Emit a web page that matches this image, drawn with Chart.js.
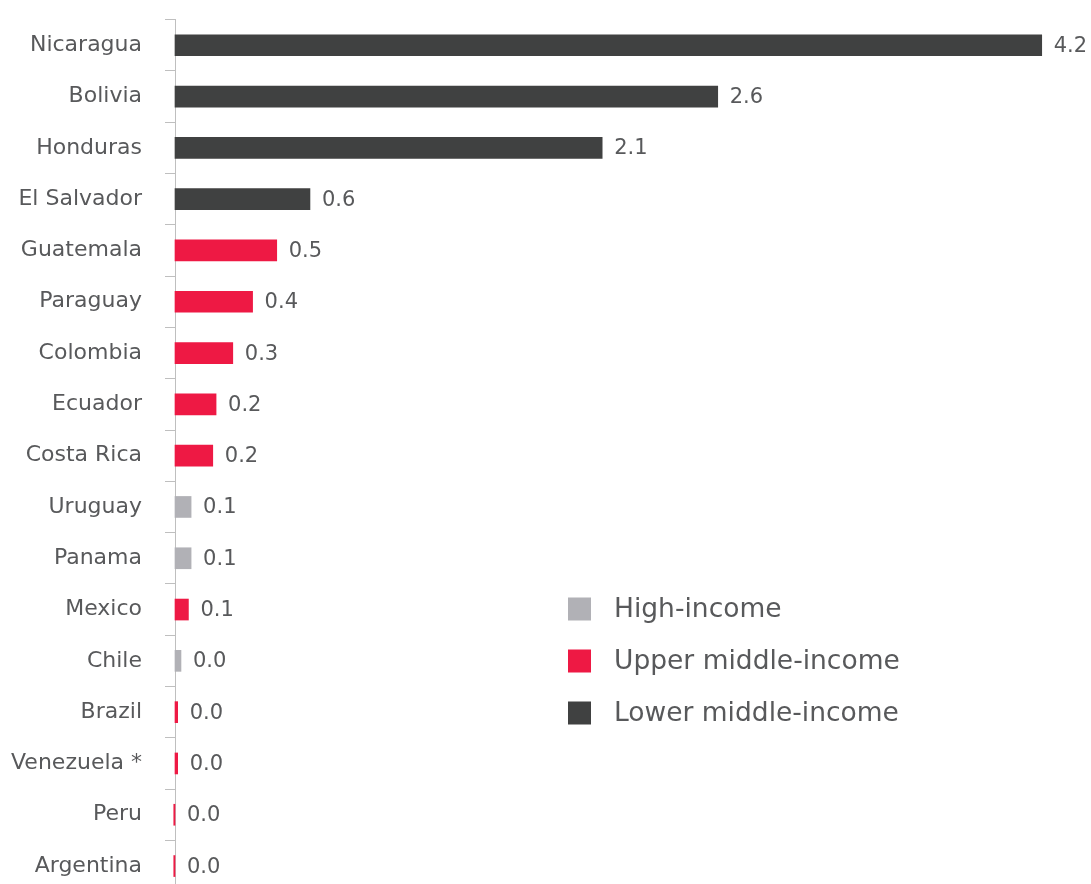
<!DOCTYPE html>
<html>
<head>
<meta charset="utf-8">
<script src="https://cdn.jsdelivr.net/npm/chart.js@4.4.1/dist/chart.umd.min.js"></script>
<style>
  html, body { margin: 0; padding: 0; background: #ffffff; overflow: hidden; }
  #wrap { position: relative; width: 1091px; height: 900px; }
</style>
</head>
<body>
<div id="wrap"><canvas id="c" width="1091" height="900"></canvas></div>
<script>
const categories = ["Nicaragua", "Bolivia", "Honduras", "El Salvador", "Guatemala", "Paraguay",
  "Colombia", "Ecuador", "Costa Rica", "Uruguay", "Panama", "Mexico", "Chile", "Brazil",
  "Venezuela *", "Peru", "Argentina"];
const values = [4.2, 2.63, 2.07, 0.654, 0.493, 0.376, 0.28, 0.199, 0.183, 0.078, 0.078, 0.065,
  0.029, 0.013, 0.013, -0.006, -0.006];
const groups = ["Lower", "Lower", "Lower", "Lower", "Upper", "Upper", "Upper", "Upper", "Upper",
  "High", "High", "Upper", "High", "Upper", "Upper", "Upper", "Upper"];
const valueTexts = ["4.2", "2.6", "2.1", "0.6", "0.5", "0.4", "0.3", "0.2", "0.2", "0.1", "0.1",
  "0.1", "0.0", "0.0", "0.0", "0.0", "0.0"];
const seriesNames = ["High-income", "Upper middle-income", "Lower middle-income"];
const seriesKeys = ["High", "Upper", "Lower"];
const seriesColors = ["#B1B1B6", "#EE1944", "#404141"];

const TEXT = "#58595B";
const FONT = "'DejaVu Sans', sans-serif";

const datasets = seriesKeys.map((k, i) => ({
  label: seriesNames[i],
  data: values.map((v, j) => groups[j] === k ? v : null),
  backgroundColor: seriesColors[i],
  borderWidth: 0,
  barThickness: 21,
  clip: false
}));

const valueLabels = {
  id: 'valueLabels',
  afterDatasetsDraw(chart) {
    const ctx = chart.ctx;
    ctx.save();
    ctx.font = "21px " + FONT;
    ctx.fillStyle = TEXT;
    ctx.textAlign = "left";
    ctx.textBaseline = "middle";
    chart.data.datasets.forEach((ds, di) => {
      const meta = chart.getDatasetMeta(di);
      meta.data.forEach((bar, j) => {
        const v = ds.data[j];
        if (v === null || v === undefined) return;
        const end = Math.max(bar.x, bar.base);
        ctx.fillText(valueTexts[j], end + 12, bar.y + 1);
      });
    });
    ctx.restore();
  }
};

const customLegend = {
  id: 'customLegend',
  afterDraw(chart) {
    const ctx = chart.ctx;
    ctx.save();
    ctx.font = "26.5px " + FONT;
    ctx.textAlign = "left";
    ctx.textBaseline = "middle";
    chart.data.datasets.forEach((ds, i) => {
      const cy = 609 + i * 52;
      ctx.fillStyle = ds.backgroundColor;
      ctx.fillRect(568, cy - 11.5, 23, 23);
      ctx.fillStyle = TEXT;
      ctx.fillText(ds.label, 614, cy + 1);
    });
    ctx.restore();
  }
};

new Chart(document.getElementById('c'), {
  type: 'bar',
  data: { labels: categories, datasets: datasets },
  options: {
    indexAxis: 'y',
    responsive: false,
    maintainAspectRatio: false,
    animation: false,
    layout: { padding: { left: 0, right: 8, top: 19.6, bottom: 8.3 } },
    plugins: { legend: { display: false }, tooltip: { enabled: false } },
    scales: {
      x: {
        display: false,
        stacked: true,
        min: 0,
        max: 4.4
      },
      y: {
        stacked: true,
        afterFit(scale) {
          scale.width = 175;
          scale.paddingTop = 0;
          scale.paddingBottom = 0;
        },
        grid: {
          display: true,
          drawOnChartArea: false,
          drawTicks: true,
          tickLength: 10,
          color: "#BFBFBF",
          offset: true
        },
        border: { display: true, color: "#BFBFBF", width: 1 },
        ticks: {
          color: TEXT,
          font: { family: FONT, size: 22 },
          padding: 23
        }
      }
    }
  },
  plugins: [valueLabels, customLegend]
});
</script>
</body>
</html>
